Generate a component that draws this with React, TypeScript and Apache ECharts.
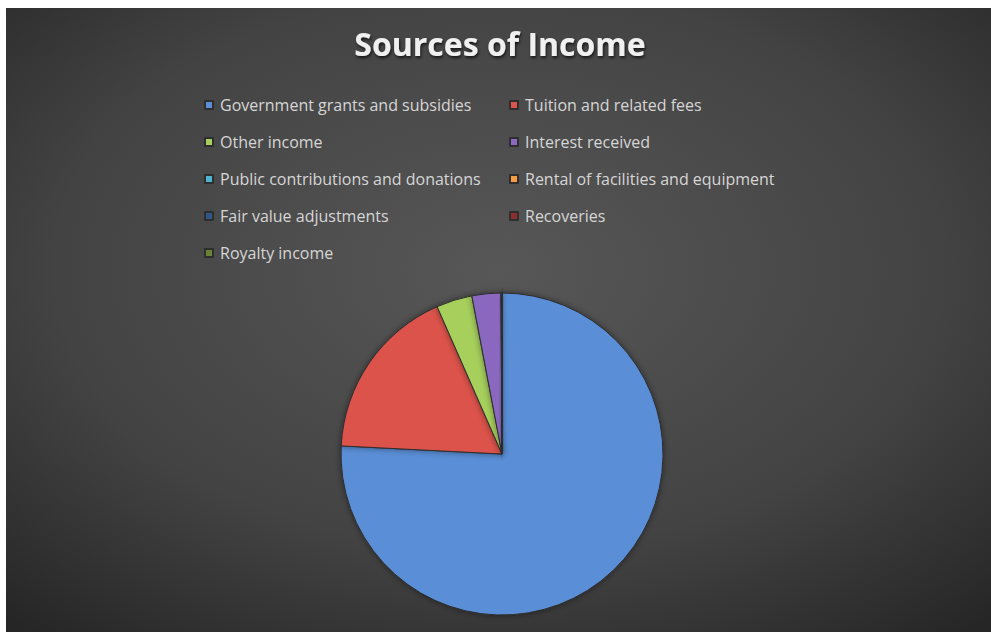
import React, { useEffect, useRef } from "react";
import * as echarts from "echarts";

const titleText = "Sources of Income";
const categories = [
  "Government grants and subsidies",
  "Tuition and related fees",
  "Other income",
  "Interest received",
  "Public contributions and donations",
  "Rental of facilities and equipment",
  "Fair value adjustments",
  "Recoveries",
  "Royalty income",
];
const values = [75.8, 17.6, 3.6, 2.9, 0.04, 0.03, 0.01, 0.01, 0.01];
const colors = [
  "#5a8ed6",
  "#dc524c",
  "#a6cf5c",
  "#8a67c0",
  "#4fb4d0",
  "#f79a46",
  "#2f5687",
  "#8a2f2c",
  "#6a8236",
];
const legendCol1 = [0, 2, 4, 6, 8];
const legendCol2 = [1, 3, 5, 7];

export default function App() {
  const ref = useRef<HTMLDivElement>(null);
  useEffect(() => {
    if (!ref.current) return;
    const chart = echarts.init(ref.current, undefined, { renderer: "svg" });
    const font = "'Open Sans', 'Liberation Sans', sans-serif";
    const legendBase = {
      orient: "vertical",
      icon: "rect",
      itemWidth: 8,
      itemHeight: 8,
      itemGap: 19,
      padding: 0,
      selectedMode: false,
      textStyle: {
        color: "#d6d6d6",
        fontFamily: font,
        fontSize: 16,
        lineHeight: 18,
        padding: [0, 0, 0, 2],
      },
    };
    chart.setOption({
      animation: false,
      backgroundColor: "#ffffff",
      color: colors,
      graphic: [
        {
          type: "rect",
          z: -10,
          silent: true,
          shape: { x: 6, y: 8, width: 985, height: 624 },
          style: {
            fill: new echarts.graphic.RadialGradient(0.5, 0.42, 0.75, [
              { offset: 0, color: "#575757" },
              { offset: 0.6, color: "#434343" },
              { offset: 1, color: "#262626" },
            ]),
          },
        },
      ],
      title: {
        text: titleText,
        left: 500,
        textAlign: "center",
        top: 27,
        padding: 0,
        textStyle: {
          color: "#f0f0f0",
          fontFamily: font,
          fontWeight: "bold",
          fontSize: 32,
          textShadowColor: "rgba(0,0,0,0.7)",
          textShadowBlur: 3,
          textShadowOffsetX: 1,
          textShadowOffsetY: 2,
        },
      },
      legend: [
        { ...legendBase, left: 204, top: 96, data: legendCol1.map((i) => categories[i]) },
        { ...legendBase, left: 509, top: 96, data: legendCol2.map((i) => categories[i]) },
      ],
      series: [
        {
          type: "pie",
          center: [502, 454],
          radius: 161,
          startAngle: 90,
          clockwise: true,
          label: { show: false },
          labelLine: { show: false },
          silent: true,
          itemStyle: {
            borderColor: "#2e2e2e",
            borderWidth: 1,
            shadowBlur: 6,
            shadowColor: "rgba(0,0,0,0.45)",
          },
          data: categories.map((name, i) => ({ name, value: values[i] })),
        },
      ],
    });
    return () => chart.dispose();
  }, []);
  return (
    <div
      ref={ref}
      style={{ position: "fixed", left: 0, top: 0, width: 991, height: 632 }}
    />
  );
}
